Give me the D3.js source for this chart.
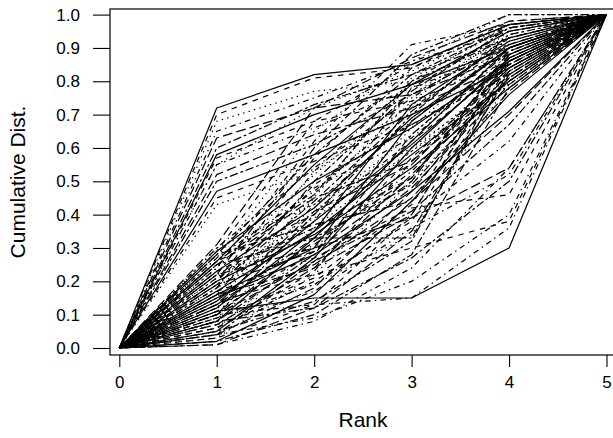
<!DOCTYPE html>
<html><head><meta charset="utf-8">
<script src="https://cdn.jsdelivr.net/npm/d3@7"></script>
<style>
html,body{margin:0;padding:0;background:#fff;}
svg{display:block;font-family:"Liberation Sans",Arial,sans-serif;}
</style></head>
<body><svg id="c" width="613" height="438"></svg>
<script>
// Ranks on the x axis (rank 0 -> 0, rank 5 -> 1 for every series)
const ranks = [0, 1, 2, 3, 4, 5];
const xTicks = [0, 1, 2, 3, 4, 5];
const yTicks = [0, 0.1, 0.2, 0.3, 0.4, 0.5, 0.6, 0.7, 0.8, 0.9, 1.0];
const xTitle = "Rank";
const yTitle = "Cumulative Dist.";

// Cumulative value of each series at ranks 1..4
const atRank1 = [0.72,0.70,0.68,0.65,0.63,0.60,0.58,0.57,0.55,0.55,0.52,0.50,0.47,0.45,0.43,
 0.01,0.01,0.02,0.02,0.03,0.03,0.04,0.04,0.05,0.05,0.06,0.06,0.07,0.07,0.08,0.08,0.09,0.09,0.10,0.10,
 0.10,0.11,0.11,0.12,0.12,0.13,0.13,0.14,0.14,0.15,0.15,0.16,0.16,0.17,0.17,0.18,0.18,0.19,0.19,0.20,
 0.20,0.21,0.21,0.22,0.22,0.23,0.23,0.24,0.24,0.25,0.25,0.26,0.26,0.27,0.27,0.28,0.28,0.29,0.29,0.30,
 0.30,0.31,0.08,0.12,0.06,0.14,0.18,0.10,0.04,0.16,0.20,0.22,0.09,0.13,0.26,0.15];
const atRank2 = [0.82,0.81,0.77,0.75,0.72,0.73,0.70,0.68,0.72,0.66,0.64,0.61,0.58,0.56,0.53,
 0.08,0.12,0.10,0.16,0.13,0.22,0.09,0.18,0.14,0.27,0.20,0.30,0.17,0.24,0.12,0.33,0.21,0.36,0.13,0.26,
 0.40,0.15,0.29,0.19,0.43,0.25,0.33,0.38,0.22,0.46,0.31,0.24,0.50,0.35,0.27,0.41,0.53,0.29,0.44,0.34,
 0.57,0.39,0.48,0.30,0.60,0.42,0.36,0.52,0.62,0.45,0.33,0.55,0.40,0.65,0.47,0.37,0.58,0.50,0.68,0.43,
 0.54,0.72,0.28,0.35,0.23,0.45,0.38,0.32,0.26,0.30,0.49,0.36,0.19,0.41,0.46,0.28];
const atRank3 = [0.85,0.84,0.80,0.86,0.76,0.82,0.79,0.74,0.83,0.78,0.72,0.76,0.70,0.67,0.73,
 0.24,0.35,0.28,0.44,0.40,0.50,0.20,0.47,0.32,0.60,0.38,0.55,0.36,0.52,0.27,0.62,0.43,0.66,0.15,0.48,
 0.70,0.15,0.57,0.34,0.68,0.45,0.33,0.61,0.30,0.74,0.53,0.40,0.77,0.58,0.42,0.64,0.80,0.50,0.71,0.54,
 0.84,0.59,0.63,0.39,0.88,0.69,0.51,0.76,0.91,0.56,0.49,0.79,0.62,0.86,0.72,0.44,0.82,0.66,0.85,0.60,
 0.75,0.87,0.64,0.73,0.56,0.81,0.78,0.51,0.41,0.68,0.67,0.59,0.39,0.55,0.80,0.47];
const atRank4 = [0.97,0.96,0.92,0.95,0.88,0.93,0.90,0.86,0.97,0.89,0.85,0.91,0.84,0.82,0.88,
 0.54,0.82,0.78,0.76,0.88,0.80,0.40,0.83,0.86,0.87,0.84,0.85,0.52,0.81,0.50,0.90,0.88,0.92,0.36,0.79,
 0.94,0.30,0.84,0.80,0.91,0.77,0.83,0.86,0.38,0.95,0.82,0.87,0.96,0.80,0.46,0.88,0.97,0.89,0.93,0.78,
 0.98,0.83,0.87,0.54,1.00,0.90,0.86,0.94,0.97,0.80,0.81,0.95,0.85,1.00,0.91,0.70,0.96,0.86,0.97,0.81,
 0.93,0.98,0.89,0.92,0.85,0.96,0.95,0.88,0.67,0.90,0.84,0.79,0.62,0.84,0.93,0.71];

// Line types cycled over the series (solid, dashed, dotted, dotdash, longdash, twodash)
const lineTypes = ["none", "5.6,5.6", "1.4,4.2", "1.4,4.2,5.6,4.2", "9.8,4.2", "2.8,2.8,8.4,2.8"];

(function () {
const series = atRank1.map((v, i) => [0, v, atRank2[i], atRank3[i], atRank4[i], 1]);

const svg = d3.select("#c");
const pL = 110, pT = 9, pB = 355, pR = 616;
const x = d3.scaleLinear().domain([0, 5]).range([119.3, 606.5]);
const y = d3.scaleLinear().domain([0, 1]).range([348, 14.6]);

svg.append("clipPath").attr("id", "clip").append("rect")
  .attr("x", pL).attr("y", pT).attr("width", pR - pL).attr("height", pB - pT);

const line = d3.line().x((d, i) => x(ranks[i])).y(d => y(d));
svg.append("g").attr("clip-path", "url(#clip)")
  .selectAll("path").data(series).join("path")
  .attr("d", line)
  .attr("fill", "none")
  .attr("stroke", "#000")
  .attr("stroke-width", 1.2)
  .attr("stroke-linejoin", "round")
  .attr("stroke-dasharray", (d, i) => lineTypes[i % lineTypes.length]);

svg.append("rect").attr("x", pL).attr("y", pT)
  .attr("width", pR - pL).attr("height", pB - pT)
  .attr("fill", "none").attr("stroke", "#000").attr("stroke-width", 1.2);

const yAxis = svg.append("g").attr("transform", `translate(${pL},0)`)
  .call(d3.axisLeft(y).tickValues(yTicks).tickFormat(d3.format(".1f")).tickSize(17).tickPadding(13));
const xAxis = svg.append("g").attr("transform", `translate(0,${pB})`)
  .call(d3.axisBottom(x).tickValues(xTicks).tickFormat(d3.format("d")).tickSize(12).tickPadding(9));
[yAxis, xAxis].forEach(g => {
  g.select(".domain").remove();
  g.selectAll("line").attr("stroke", "#000").attr("stroke-width", 1.1);
  g.selectAll("text").attr("fill", "#000").style("font-size", "17px")
    .style("font-family", '"Liberation Sans",Arial,sans-serif');
});

svg.append("text").attr("x", (pL + pR) / 2).attr("y", 427)
  .attr("text-anchor", "middle").style("font-size", "21px").text(xTitle);
svg.append("text").attr("transform", `translate(25,${(pT + pB) / 2}) rotate(-90)`)
  .attr("text-anchor", "middle").style("font-size", "21px").text(yTitle);
})();
</script></body></html>
